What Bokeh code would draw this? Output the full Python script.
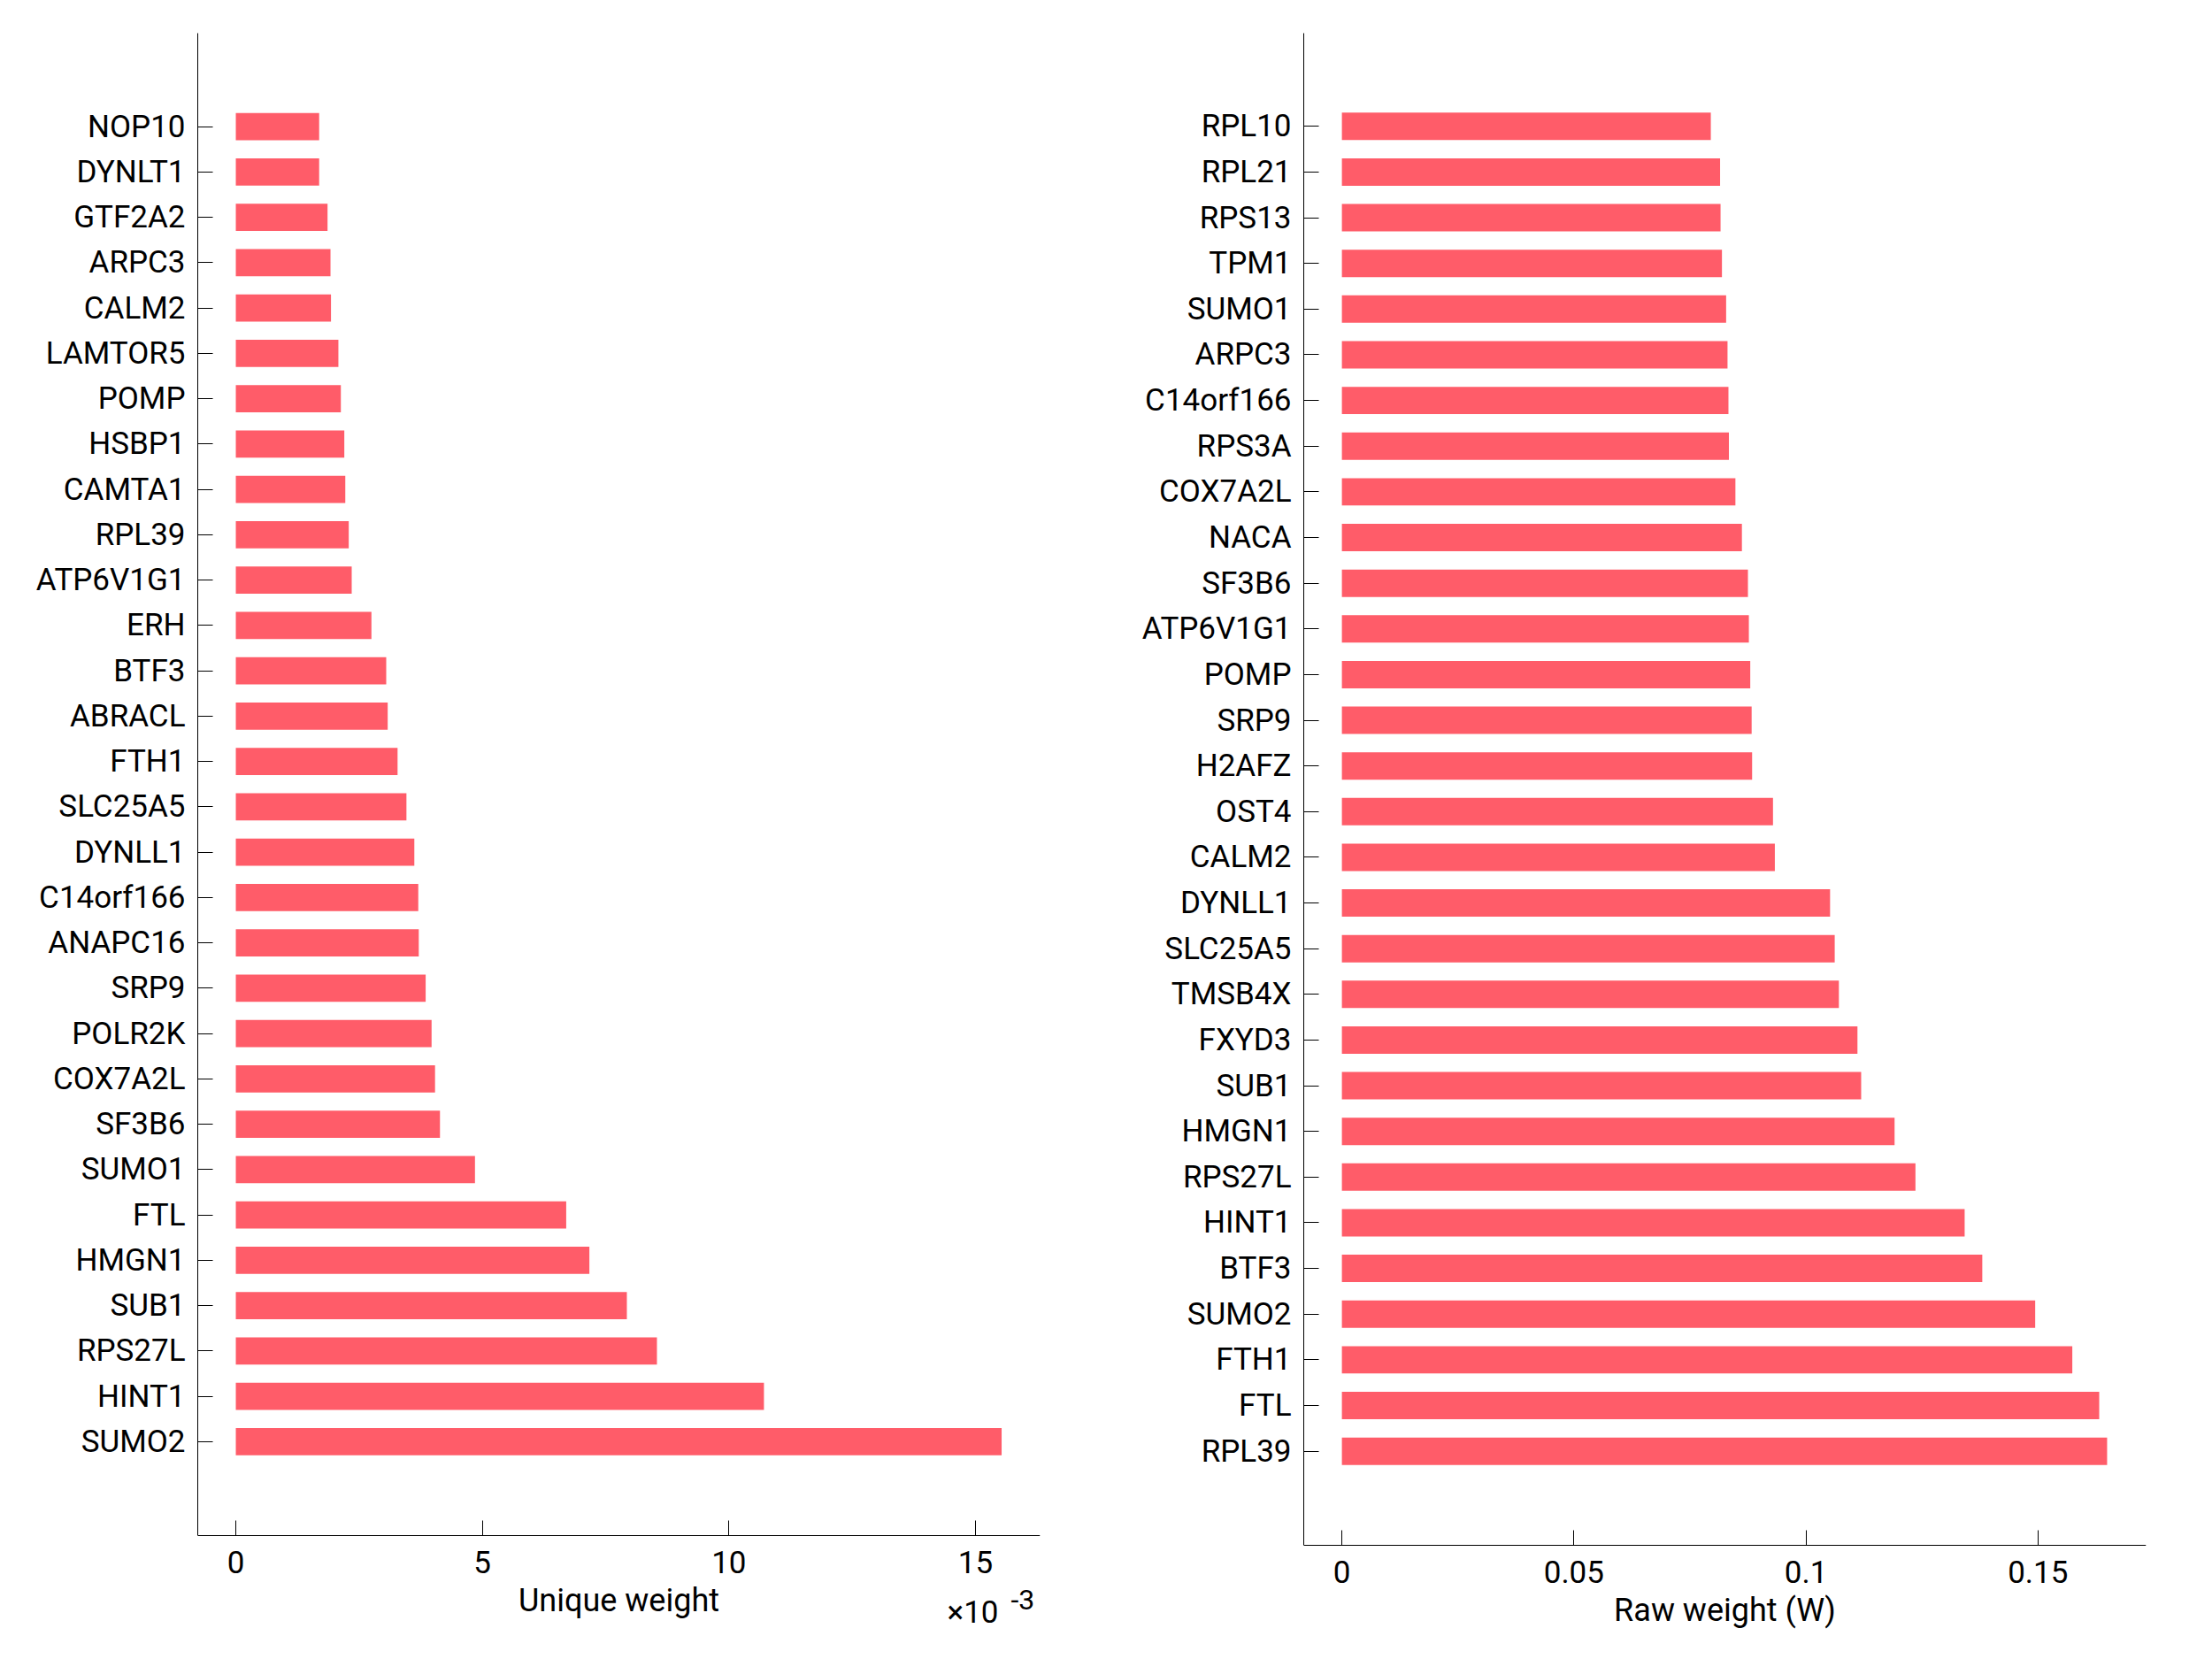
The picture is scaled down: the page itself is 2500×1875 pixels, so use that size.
from bokeh.plotting import figure
from bokeh.models import Range1d, FixedTicker, Label, CustomJSTickFormatter
from bokeh.layouts import row
from bokeh.embed import file_html
from bokeh.resources import INLINE

# ---- data (top to bottom as drawn) ----
genes_unique = ["NOP10", "DYNLT1", "GTF2A2", "ARPC3", "CALM2", "LAMTOR5", "POMP", "HSBP1",
                "CAMTA1", "RPL39", "ATP6V1G1", "ERH", "BTF3", "ABRACL", "FTH1", "SLC25A5",
                "DYNLL1", "C14orf166", "ANAPC16", "SRP9", "POLR2K", "COX7A2L", "SF3B6", "SUMO1",
                "FTL", "HMGN1", "SUB1", "RPS27L", "HINT1", "SUMO2"]
# unique weight, in units of 1e-3
unique_weight_e3 = [1.69, 1.69, 1.86, 1.92, 1.93, 2.08, 2.13, 2.20,
                    2.22, 2.29, 2.35, 2.75, 3.05, 3.08, 3.28, 3.46,
                    3.62, 3.70, 3.71, 3.85, 3.97, 4.04, 4.14, 4.85,
                    6.70, 7.17, 7.93, 8.54, 10.71, 15.53]

genes_raw = ["RPL10", "RPL21", "RPS13", "TPM1", "SUMO1", "ARPC3", "C14orf166", "RPS3A",
             "COX7A2L", "NACA", "SF3B6", "ATP6V1G1", "POMP", "SRP9", "H2AFZ", "OST4",
             "CALM2", "DYNLL1", "SLC25A5", "TMSB4X", "FXYD3", "SUB1", "HMGN1", "RPS27L",
             "HINT1", "BTF3", "SUMO2", "FTH1", "FTL", "RPL39"]
raw_weight = [0.0795, 0.0815, 0.0816, 0.0819, 0.0828, 0.0831, 0.0833, 0.0834,
              0.0848, 0.0862, 0.0875, 0.0877, 0.0880, 0.0883, 0.0884, 0.0929,
              0.0933, 0.1052, 0.1062, 0.1071, 0.1111, 0.1119, 0.1191, 0.1236,
              0.1342, 0.1380, 0.1494, 0.1574, 0.1632, 0.1649]

unique_ticks = [0, 5, 10, 15]
raw_ticks = [0, 0.05, 0.1, 0.15]

FONT = "Roboto"
BAR = "#FF5C69"

FIG_H = 1858
TOP = 37
BOTTOM = 10


def make_panel(genes, vals, x_range, y_axis_range, axis_px, width, left, right, ticks, xlabel):
    """axis_px: pixel row (from figure top) where the x axis line sits."""
    n = len(genes)
    pos = list(range(n, 0, -1))
    y0, y1 = y_axis_range
    frame_h = FIG_H - TOP - BOTTOM
    px_per_unit = (axis_px - TOP) / (y1 - y0)
    y_lo = y1 - frame_h / px_per_unit
    p = figure(width=width, height=FIG_H,
               x_range=Range1d(*x_range), y_range=Range1d(y_lo, y1),
               output_backend="svg", toolbar_location=None,
               min_border_left=left, min_border_right=right,
               min_border_top=TOP, min_border_bottom=BOTTOM)
    p.hbar(y=pos, left=0, right=vals, height=0.6, fill_color=BAR, line_color=None)
    p.outline_line_color = None
    p.xgrid.visible = False
    p.ygrid.visible = False
    p.background_fill_color = "white"
    p.border_fill_color = "white"

    p.xaxis.fixed_location = y0
    p.yaxis.bounds = (y0, y1)
    p.yaxis.ticker = FixedTicker(ticks=pos)
    p.yaxis.major_label_overrides = {k: g for k, g in zip(pos, genes)}
    p.xaxis.ticker = FixedTicker(ticks=ticks)
    p.xaxis.formatter = CustomJSTickFormatter(code="return String(Number(tick.toPrecision(6)));")
    for ax in (p.xaxis, p.yaxis):
        ax.axis_line_color = "black"
        ax.axis_line_width = 1
        ax.major_tick_line_color = "black"
        ax.major_tick_line_width = 1
        ax.major_tick_in = 17
        ax.major_tick_out = 0
        ax.minor_tick_line_color = None
        ax.major_label_text_font = FONT
        ax.major_label_text_font_size = "35px"
        ax.major_label_text_color = "black"
    p.yaxis.major_label_standoff = 14
    p.xaxis.major_label_standoff = 17
    p.xaxis.axis_label = xlabel
    p.xaxis.axis_label_text_font = FONT
    p.xaxis.axis_label_text_font_size = "36px"
    p.xaxis.axis_label_text_font_style = "normal"
    p.xaxis.axis_label_text_color = "black"
    p.xaxis.axis_label_standoff = 7
    return p


ux = (-0.772, 16.31)
uy = (-1.07, 32.06)
p1 = make_panel(genes_unique, unique_weight_e3, ux, uy, 1735, 1258, 223, 83,
                unique_ticks, "Unique weight")
# exponent of the x axis (x10^-3), just under the right end of the axis
p1.add_layout(Label(x=ux[1], y=uy[0], x_offset=-47, y_offset=-87, text="×10",
                    text_align="right", text_baseline="alphabetic",
                    text_font=FONT, text_font_size="35px", text_color="black"))
p1.add_layout(Label(x=ux[1], y=uy[0], x_offset=-33, y_offset=-72, text="-3",
                    text_align="left", text_baseline="alphabetic",
                    text_font=FONT, text_font_size="32px", text_color="black"))

p2 = make_panel(genes_raw, raw_weight, (-0.00822, 0.1733), (-1.06, 32.04), 1746, 1226, 215, 59,
                raw_ticks, "Raw weight (W)")

layout = row(p1, p2, spacing=0)
open("out.html", "w").write(file_html(layout, INLINE))
